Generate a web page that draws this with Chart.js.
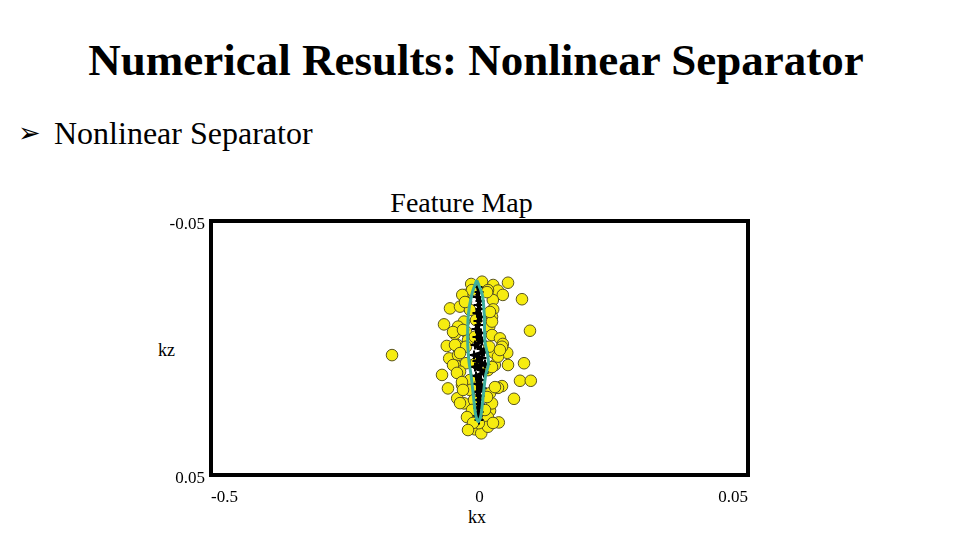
<!DOCTYPE html>
<html>
<head>
<meta charset="utf-8">
<script src="https://cdn.jsdelivr.net/npm/chart.js@4.4.0/dist/chart.umd.min.js"></script>
<style>
    html, body { margin: 0; padding: 0; background: #fff; }
    body { width: 960px; height: 540px; position: relative; overflow: hidden; font-family: "Liberation Serif", "Times New Roman", serif; color: #000; }
    #wrap { position: absolute; left: 0; top: 0; width: 960px; height: 540px; }
    .txt { position: absolute; white-space: nowrap; line-height: 1; }
    #title { left: 0; width: 952px; top: 38px; text-align: center; font-size: 45px; font-weight: bold; }
    #bullet { left: 18px; top: 119px; font-size: 27px; font-family: "DejaVu Sans", sans-serif; }
    #sub { left: 54px; top: 117px; font-size: 32px; }
    #ctitle { left: 0; width: 923px; top: 189px; text-align: center; font-size: 28px; }
    #kz { left: 158px; top: 341px; font-size: 18px; }
    #kx { left: 468px; top: 508px; font-size: 18px; }
</style>
</head>
<body>
<div class="txt" id="title">Numerical Results: Nonlinear Separator</div>
<div class="txt" id="bullet">&#10146;</div>
<div class="txt" id="sub">Nonlinear Separator</div>
<div class="txt" id="ctitle">Feature Map</div>
<div class="txt" id="kz">kz</div>
<div class="txt" id="kx">kx</div>
<div id="wrap"><canvas id="myChart" width="960" height="540"></canvas></div>
<script>
(function () {
    "use strict";

    // axis ticks (labels copied as printed on the figure)
    const xTickValues = [-0.05, 0, 0.05];
    const xTickLabels = ['-0.5', '0', '0.05'];
    const yTickValues = [-0.05, 0.05];
    const yTickLabels = ['-0.05', '0.05'];

    // feature points (kx, kz)
    const featX = [-0.00155, 0.00047, 0.00255, 0.00531, -0.00266, 0.00344, 0.00434, 0.00791, -0.00251, 0.00248,
        -0.00549, -0.00363, -0.00177, 0.00255, 0.00233, -0.00661, -0.00289, -0.00400, 0.00181, 0.00940,
        -0.00460, -0.00251, 0.00233, 0.00382, -0.00609, -0.00415, -0.00214, 0.00434, -0.01629, -0.00564,
        -0.00400, 0.00270, 0.00516, -0.00438, -0.00251, 0.00285, 0.00531, 0.00829, -0.00698, -0.00363,
        -0.00177, 0.00419, 0.00754, 0.00955, -0.00587, -0.00177, -0.00415, 0.00196, 0.00642, -0.00289,
        -0.00088, 0.00196, -0.00177, 0.00158, 0.00359, -0.00088, 0.00032, 0.00158, -0.00065, 0.00233,
        -0.00088, 0.00181, 0.00344, -0.00065, 0.00158, -0.00028, 0.00344, -0.00102, 0.00233, -0.00013,
        -0.00251, -0.00326, 0.00419, -0.00140, 0.00158,
        -0.00321, 0.00140, -0.00270, 0.00195, -0.00493, -0.00307, -0.00456, -0.00363, 0.00381, -0.00493,
        0.00233, -0.00419, -0.00326, 0.00288, -0.00307, 0.00140, -0.00363, -0.00140, 0.00102, -0.00233,
        -0.00121, 0.00251, -0.00214];
    const featZ = [-0.0252, -0.0261, -0.0248, -0.0257, -0.0209, -0.0226, -0.0209, -0.0192, -0.0182, -0.0189,
        -0.0156, -0.0163, -0.0150, -0.0152, -0.0123, -0.0093, -0.0104, -0.0084, -0.0084, -0.0068,
        -0.0055, -0.0064, -0.0051, -0.0038, -0.0008, -0.0012, -0.0031, -0.0016, 0.0028, 0.0041,
        0.0028, 0.0019, 0.0019, 0.0070, 0.0060, 0.0067, 0.0067, 0.0060, 0.0106, 0.0093,
        0.0126, 0.0150, 0.0129, 0.0129, 0.0159, 0.0165, 0.0198, 0.0178, 0.0200, 0.0218,
        0.0244, 0.0247, 0.0270, 0.0273, 0.0293, 0.0320, 0.0336, 0.0310, -0.0110, -0.0104,
        -0.0044, -0.0005, 0.0034, 0.0059, 0.0087, 0.0152, 0.0157, 0.0205, 0.0218, 0.0296,
        -0.0005, 0.0146, -0.0005, -0.0228, -0.0228,
        -0.0209, -0.0220, -0.0181, -0.0142, -0.0063, -0.0071, -0.0012, 0.0020, 0.0008, 0.0067,
        0.0075, 0.0098, 0.0134, 0.0154, 0.0165, 0.0193, 0.0217, 0.0244, 0.0244, 0.0272,
        0.0295, 0.0295, 0.0323];

    // support points along the separator
    const supX = [-0.00028, -0.00009, -0.00047, 0.00009, -0.00028, 0.00009, -0.00047, 0.00028, -0.00028, -0.00009,
        -0.00065, 0.00028, -0.00047, 0.00047, -0.00084, 0.00028, 0.00084, -0.00102, 0.00047, -0.00047,
        0.00102, -0.00084, 0.00028, 0.00084, -0.00065, 0.00028, -0.00047, 0.00047, -0.00047, 0.00009,
        -0.00028, 0.00009, -0.00028, -0.00009, -0.00028, -0.00009];
    const supZ = [-0.0240, -0.0220, -0.0201, -0.0185, -0.0169, -0.0154, -0.0138, -0.0122, -0.0106, -0.0091,
        -0.0075, -0.0059, -0.0043, -0.0028, -0.0012, 0.0004, 0.0016, 0.0028, 0.0039, 0.0051,
        0.0063, 0.0075, 0.0087, 0.0098, 0.0110, 0.0126, 0.0142, 0.0157, 0.0173, 0.0189,
        0.0205, 0.0220, 0.0236, 0.0252, 0.0268, 0.0283];

    // separator contour
    const sepX = [-0.00052, 0.00052, 0.00089, 0.00102, 0.00153, 0.00164, 0.00115, 0.00071, 0.00028, -0.00022,
        -0.00071, -0.00115, -0.00158, -0.00195, -0.00220, -0.00208, -0.00145, -0.00052];
    const sepZ = [-0.0268, -0.0209, -0.0130, -0.0024, 0.0028, 0.0067, 0.0106, 0.0185, 0.0264, 0.0290,
        0.0264, 0.0185, 0.0106, 0.0055, -0.0024, -0.0130, -0.0209, -0.0268];

    function toPoints(xs, ys) {
        return xs.map(function (x, i) { return { x: x, y: ys[i] }; });
    }

    // thick frame round the plot area
    const framePlugin = {
        id: 'frame',
        afterDatasetsDraw(chart) {
            const a = chart.chartArea;
            const c = chart.ctx;
            c.save();
            c.strokeStyle = '#000';
            c.lineWidth = 4;
            c.strokeRect(a.left, a.top, a.right - a.left, a.bottom - a.top);
            c.restore();
        }
    };

    const font = { family: '"Liberation Serif", "Times New Roman", serif', size: 17 };

    let ctx = document.getElementById('myChart').getContext('2d');
    new Chart(ctx, {
        type: 'scatter',
        data: {
            datasets: [
                {
                    label: 'separator',
                    type: 'line',
                    data: toPoints(sepX, sepZ),
                    borderColor: '#3faf9d',
                    borderWidth: 3,
                    pointRadius: 0,
                    tension: 0.3,
                    fill: false
                },
                {
                    label: 'support',
                    type: 'line',
                    data: toPoints(supX, supZ),
                    borderColor: '#000',
                    borderWidth: 4,
                    pointStyle: 'cross',
                    pointRadius: 4.5,
                    pointBorderWidth: 2,
                    pointBorderColor: '#000',
                    fill: false
                },
                {
                    label: 'features',
                    data: toPoints(featX, featZ),
                    backgroundColor: '#f6ec10',
                    borderColor: '#5a5520',
                    borderWidth: 1,
                    pointRadius: 5.8
                }
            ]
        },
        options: {
            responsive: false,
            animation: false,
            events: [],
            layout: { padding: { left: 0, right: 212, top: 221, bottom: 0 } },
            plugins: {
                legend: { display: false },
                tooltip: { enabled: false },
                title: { display: false }
            },
            scales: {
                x: {
                    type: 'linear',
                    min: -0.05,
                    max: 0.05,
                    grid: { display: false, drawTicks: false },
                    border: { display: false },
                    afterBuildTicks: function (scale) {
                        scale.ticks = xTickValues.map(function (v) { return { value: v }; });
                    },
                    afterFit: function (scale) { scale.height = 65; },
                    ticks: {
                        align: 'inner',
                        padding: 12,
                        color: '#000',
                        font: font,
                        maxRotation: 0,
                        callback: function (v, i) { return xTickLabels[i]; }
                    }
                },
                y: {
                    type: 'linear',
                    reverse: true,
                    min: -0.05,
                    max: 0.05,
                    grid: { display: false, drawTicks: false },
                    border: { display: false },
                    afterBuildTicks: function (scale) {
                        scale.ticks = yTickValues.map(function (v) { return { value: v }; });
                    },
                    afterFit: function (scale) { scale.width = 211; },
                    ticks: {
                        padding: 6,
                        labelOffset: 4,
                        color: '#000',
                        font: font,
                        callback: function (v, i) { return yTickLabels[i]; }
                    }
                }
            }
        },
        plugins: [framePlugin]
    });
})();
</script>
</body>
</html>
